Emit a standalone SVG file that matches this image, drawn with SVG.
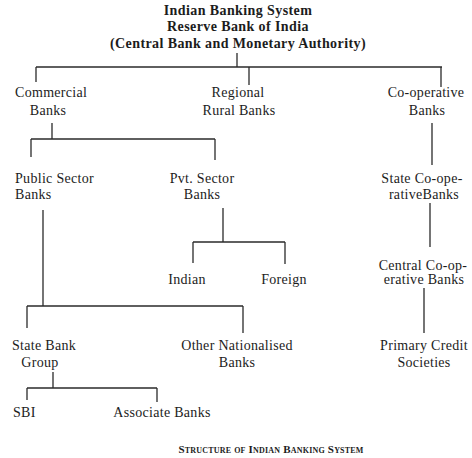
<svg xmlns="http://www.w3.org/2000/svg" width="472" height="458" viewBox="0 0 472 458">
<style>
text{font-family:"Liberation Serif","Times New Roman",serif;fill:#1c1c1c;font-size:14px;letter-spacing:0.3px}
.t{font-weight:bold;text-anchor:middle;letter-spacing:0.4px}
.m{text-anchor:middle}
.cap{font-weight:bold;font-variant:small-caps;font-size:11px;text-anchor:middle;letter-spacing:0.2px}
.c line{stroke:#2a2a2a;stroke-width:1.3;fill:none}
</style>
<rect width="472" height="458" fill="#ffffff"/>
<g id="title">
<text class="t" x="238" y="15">Indian Banking System</text>
<text class="t" x="238" y="31">Reserve Bank of India</text>
<text class="t" x="238" y="48">(Central Bank and Monetary Authority)</text>
</g>
<g class="c" id="connectors">
<line x1="237" y1="53" x2="237" y2="67"/>
<line x1="36" y1="67" x2="442" y2="67"/>
<line x1="36" y1="67" x2="36" y2="82"/>
<line x1="249" y1="67" x2="249" y2="85"/>
<line x1="441" y1="67" x2="441" y2="87"/>
<line x1="52" y1="123" x2="52" y2="139"/>
<line x1="31" y1="139" x2="215" y2="139"/>
<line x1="31" y1="139" x2="31" y2="157"/>
<line x1="215" y1="139" x2="215" y2="160"/>
<line x1="432" y1="123" x2="432" y2="165"/>
<line x1="43" y1="210" x2="43" y2="306"/>
<line x1="27" y1="306" x2="243" y2="306"/>
<line x1="27" y1="306" x2="27" y2="328"/>
<line x1="243" y1="306" x2="243" y2="333"/>
<line x1="223" y1="208" x2="223" y2="242"/>
<line x1="193" y1="242" x2="285" y2="242"/>
<line x1="193" y1="242" x2="193" y2="263"/>
<line x1="285" y1="242" x2="285" y2="264"/>
<line x1="430" y1="203" x2="430" y2="247"/>
<line x1="424" y1="288" x2="424" y2="333"/>
<line x1="53" y1="372" x2="53" y2="388"/>
<line x1="27" y1="388" x2="157" y2="388"/>
<line x1="27" y1="388" x2="27" y2="400"/>
<line x1="157" y1="388" x2="157" y2="402"/>
</g>
<g id="commercial"><text x="15" y="97">Commercial</text><text class="m" x="48" y="115">Banks</text></g>
<g id="regional"><text class="m" x="238" y="97">Regional</text><text class="m" x="239" y="115">Rural Banks</text></g>
<g id="cooperative"><text class="m" x="426" y="97">Co-operative</text><text class="m" x="427" y="115">Banks</text></g>
<g id="public"><text x="15" y="183">Public Sector</text><text x="15" y="199">Banks</text></g>
<g id="pvt"><text class="m" x="202" y="183">Pvt. Sector</text><text class="m" x="202" y="199">Banks</text></g>
<g id="stateco"><text class="m" x="422" y="183">State Co-ope-</text><text class="m" x="424" y="199">rativeBanks</text></g>
<g id="indian"><text class="m" x="187" y="284">Indian</text></g>
<g id="foreign"><text class="m" x="284" y="284">Foreign</text></g>
<g id="centralco"><text class="m" x="423" y="270">Central Co-op-</text><text class="m" x="424" y="284">erative Banks</text></g>
<g id="sbg"><text class="m" x="44" y="350">State Bank</text><text class="m" x="40" y="367">Group</text></g>
<g id="other"><text class="m" x="237" y="350">Other Nationalised</text><text class="m" x="237" y="367">Banks</text></g>
<g id="primary"><text class="m" x="424" y="350">Primary Credit</text><text class="m" x="424" y="367">Societies</text></g>
<g id="sbi"><text x="13" y="417">SBI</text></g>
<g id="associate"><text class="m" x="162" y="417">Associate Banks</text></g>
<g id="caption"><text class="cap" x="271" y="453">Structure of Indian Banking System</text></g>
</svg>
